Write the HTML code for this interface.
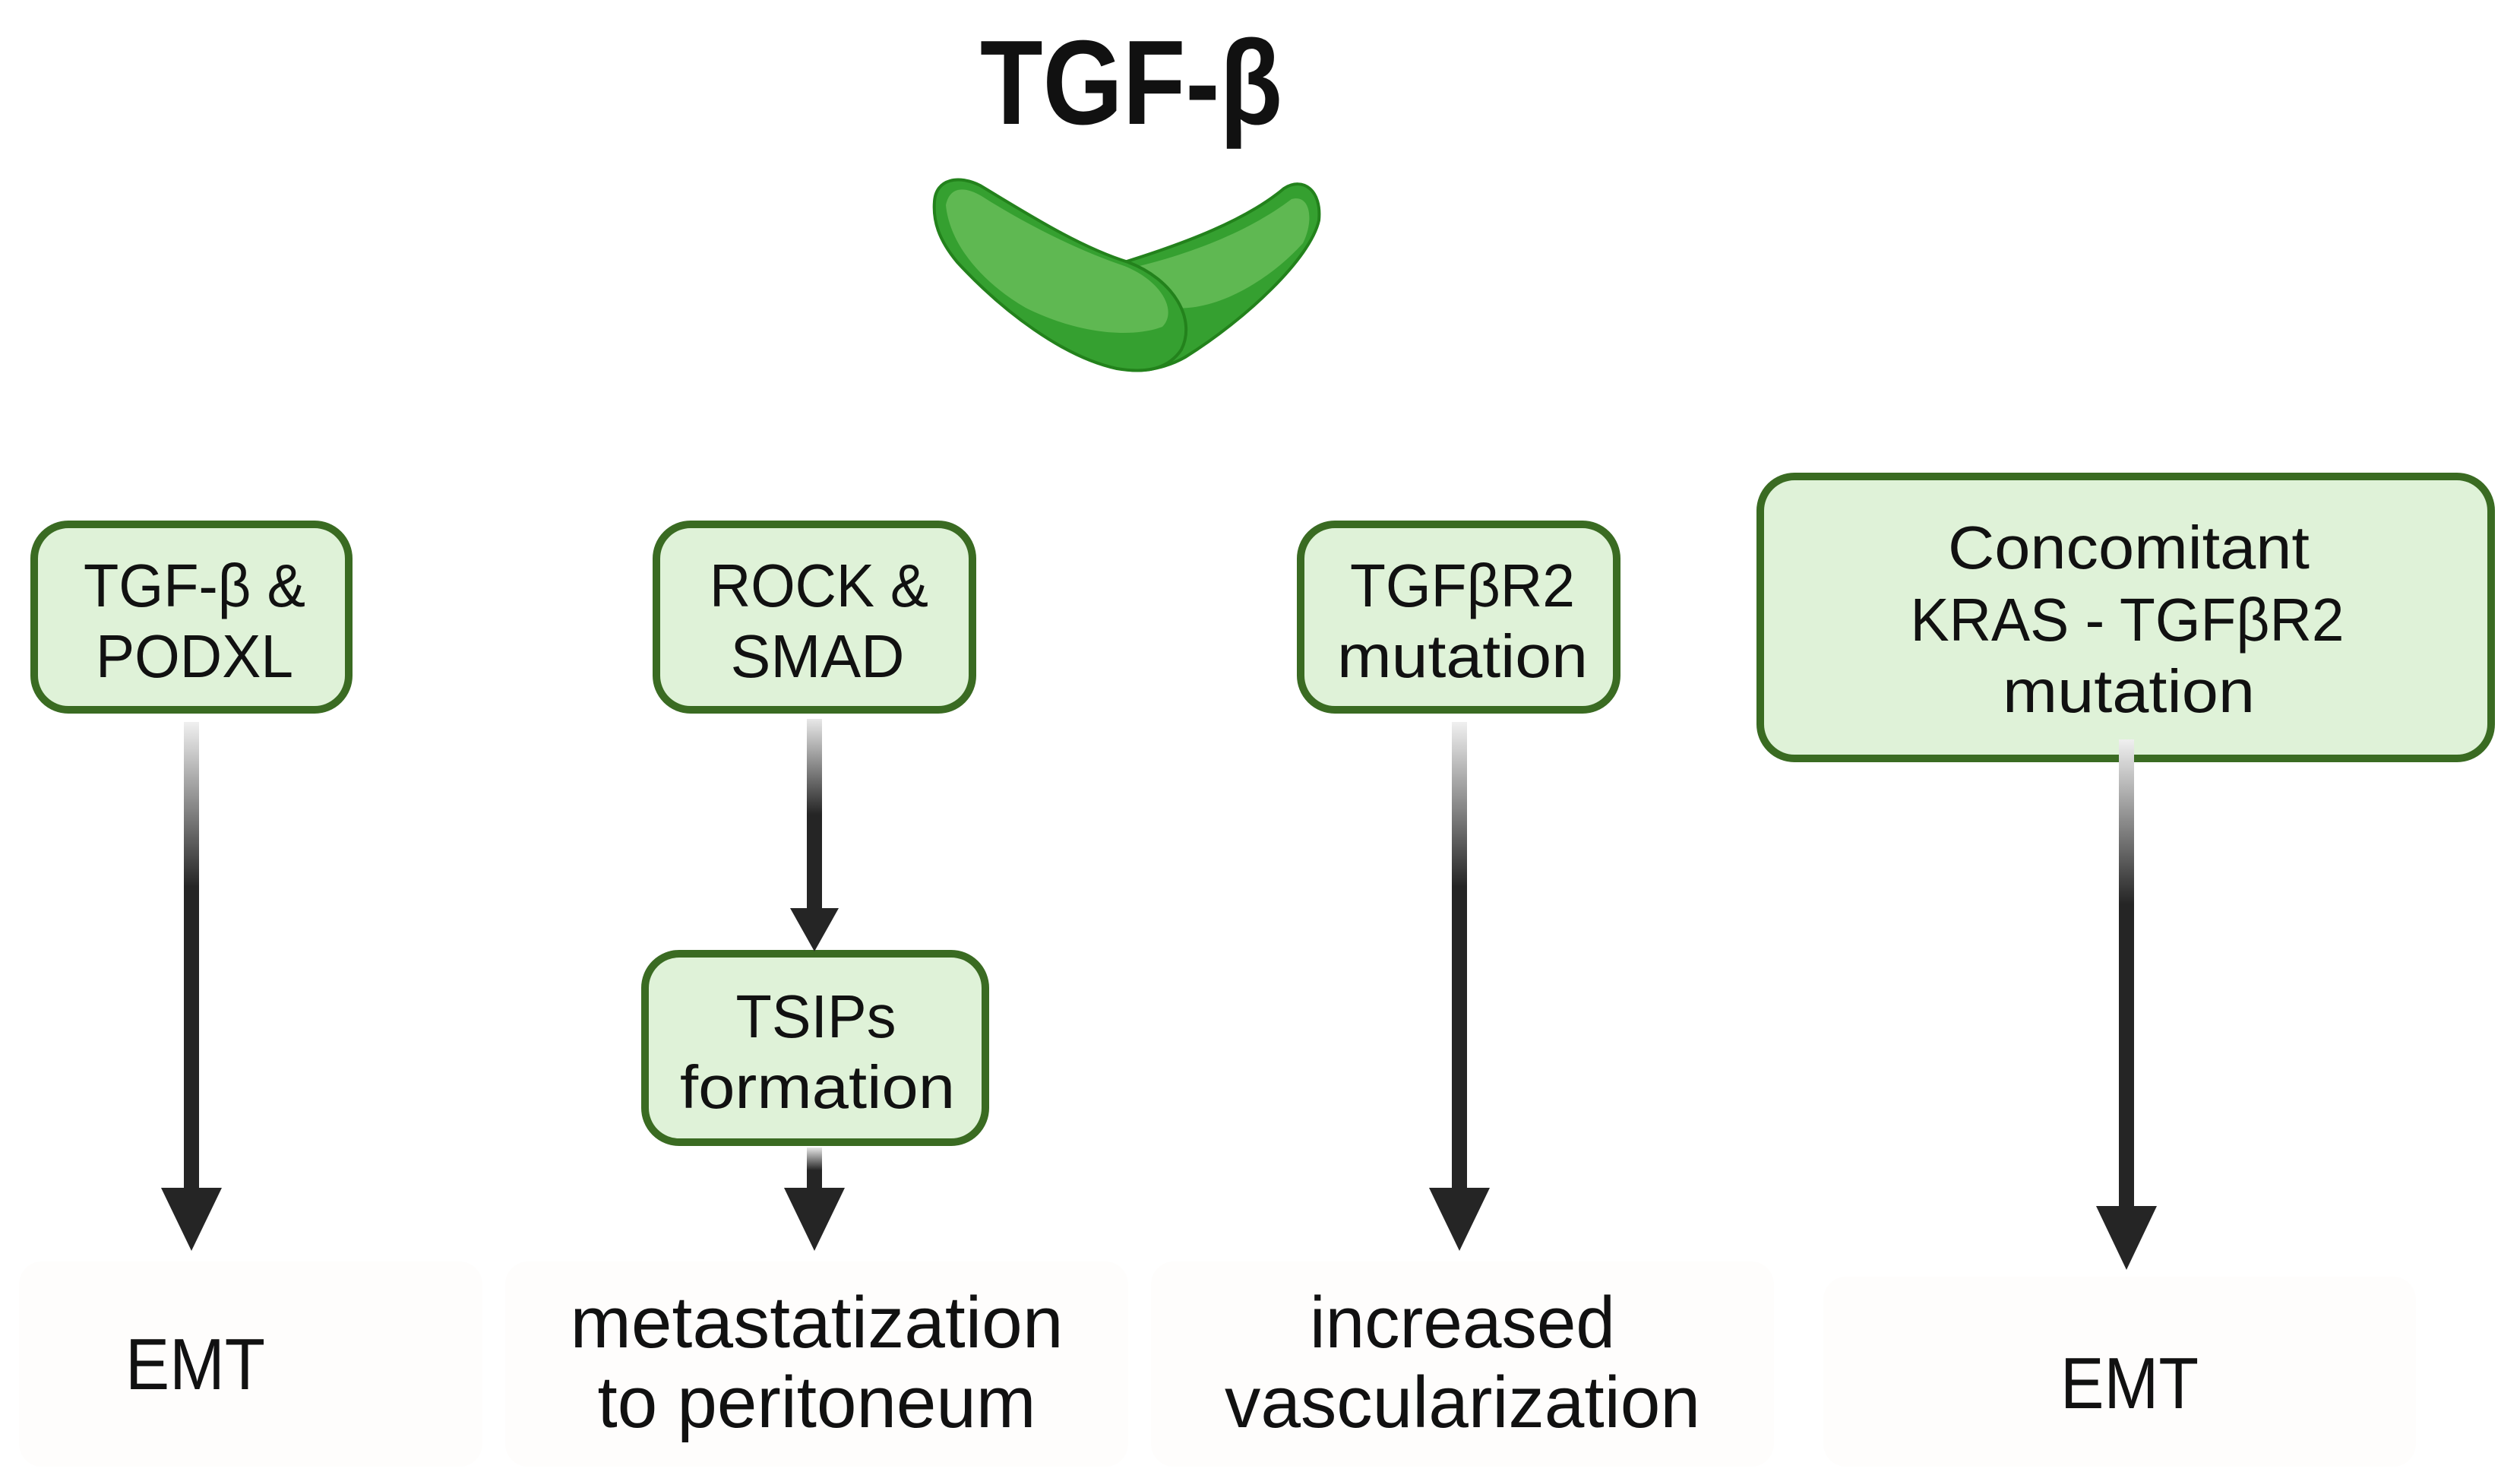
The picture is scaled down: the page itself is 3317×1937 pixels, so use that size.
<!DOCTYPE html>
<html><head><meta charset="utf-8"><style>
html,body{margin:0;padding:0;background:#fff;}
svg{display:block;}
text{font-family:"Liberation Sans",sans-serif;fill:#111;}
</style></head><body>
<svg width="3317" height="1937" viewBox="0 0 3317 1937" xmlns="http://www.w3.org/2000/svg">
<defs>
<linearGradient id="g1" x1="0" y1="0" x2="0" y2="1">
<stop offset="0" stop-color="#f0f0f0"/><stop offset="0.35" stop-color="#252525"/><stop offset="1" stop-color="#252525"/>
</linearGradient>
<linearGradient id="g2" x1="0" y1="0" x2="0" y2="1">
<stop offset="0" stop-color="#e8e8e8"/><stop offset="0.5" stop-color="#252525"/><stop offset="1" stop-color="#252525"/>
</linearGradient>
</defs>
<rect width="3317" height="1937" fill="#fff"/>

<g fill="#fefdfc">
<rect x="25" y="1660" width="610" height="270" rx="30"/>
<rect x="665" y="1660" width="820" height="270" rx="30"/>
<rect x="1515" y="1660" width="820" height="270" rx="30"/>
<rect x="2400" y="1680" width="780" height="250" rx="30"/>
</g>

<text x="1489" y="163" font-size="158" font-weight="bold" text-anchor="middle" textLength="398" lengthAdjust="spacingAndGlyphs">TGF-β</text>

<path d="M1480,345 C1560,320 1640,290 1690,248 C1715,232 1740,250 1736,290 C1725,340 1640,420 1560,470 C1525,490 1480,492 1470,480 Z" fill="#35a030" stroke="#23821c" stroke-width="4"/>
<path d="M1500,350 C1580,330 1650,300 1700,262 C1725,255 1730,290 1715,320 C1670,370 1600,410 1545,405 C1520,390 1510,370 1500,350 Z" fill="#5fb852"/>
<path d="M1230,265 C1232,235 1262,230 1290,244 C1350,280 1420,325 1485,345 C1545,368 1575,420 1555,460 C1535,490 1500,490 1470,485 C1400,470 1320,410 1260,345 C1235,315 1228,290 1230,265 Z" fill="#35a030" stroke="#23821c" stroke-width="4"/>
<path d="M1245,270 C1250,245 1270,245 1292,258 C1350,295 1420,330 1480,350 C1530,370 1550,410 1530,430 C1490,445 1420,440 1350,405 C1290,370 1250,320 1245,270 Z" fill="#5fb852"/>

<g fill="#dff2d8" stroke="#3a6b22" stroke-width="10">
<rect x="45" y="690" width="414" height="244" rx="45"/>
<rect x="864" y="690" width="416" height="244" rx="45"/>
<rect x="849" y="1255" width="448" height="248" rx="45"/>
<rect x="1712" y="690" width="416" height="244" rx="45"/>
<rect x="2317" y="627" width="962" height="371" rx="45"/>
</g>

<g font-size="80" text-anchor="middle">
<text x="256" y="798" textLength="292" lengthAdjust="spacingAndGlyphs">TGF-β &amp;</text>
<text x="256" y="891" textLength="260" lengthAdjust="spacingAndGlyphs">PODXL</text>
<text x="1078" y="798" textLength="288" lengthAdjust="spacingAndGlyphs">ROCK &amp;</text>
<text x="1076" y="891" textLength="229" lengthAdjust="spacingAndGlyphs">SMAD</text>
<text x="1074" y="1365" textLength="211" lengthAdjust="spacingAndGlyphs">TSIPs</text>
<text x="1076" y="1458" textLength="362" lengthAdjust="spacingAndGlyphs">formation</text>
<text x="1925" y="798" textLength="296" lengthAdjust="spacingAndGlyphs">TGFβR2</text>
<text x="1925" y="891" textLength="330" lengthAdjust="spacingAndGlyphs">mutation</text>
<text x="2802" y="748" textLength="476" lengthAdjust="spacingAndGlyphs">Concomitant</text>
<text x="2800" y="843" textLength="571" lengthAdjust="spacingAndGlyphs">KRAS - TGFβR2</text>
<text x="2802" y="937" textLength="332" lengthAdjust="spacingAndGlyphs">mutation</text>
</g>

<rect x="242" y="950" width="20" height="620" fill="url(#g1)"/>
<polygon points="212,1563 292,1563 252,1646" fill="#252525"/>
<rect x="1062" y="946" width="20" height="252" fill="url(#g2)"/>
<polygon points="1040,1195 1104,1195 1072,1252" fill="#252525"/>
<rect x="1062" y="1510" width="20" height="60" fill="url(#g2)"/>
<polygon points="1032,1563 1112,1563 1072,1646" fill="#252525"/>
<rect x="1911" y="950" width="20" height="620" fill="url(#g1)"/>
<polygon points="1881,1563 1961,1563 1921,1646" fill="#252525"/>
<rect x="2789" y="973" width="20" height="620" fill="url(#g1)"/>
<polygon points="2759,1587 2839,1587 2799,1671" fill="#252525"/>

<g font-size="96" text-anchor="middle">
<text x="257" y="1828" textLength="184" lengthAdjust="spacingAndGlyphs">EMT</text>
<text x="1075" y="1773" textLength="649" lengthAdjust="spacingAndGlyphs">metastatization</text>
<text x="1075" y="1878" textLength="577" lengthAdjust="spacingAndGlyphs">to peritoneum</text>
<text x="1925" y="1773" textLength="402" lengthAdjust="spacingAndGlyphs">increased</text>
<text x="1925" y="1878" textLength="626" lengthAdjust="spacingAndGlyphs">vascularization</text>
<text x="2803" y="1853" textLength="182" lengthAdjust="spacingAndGlyphs">EMT</text>
</g>
</svg>
</body></html>
